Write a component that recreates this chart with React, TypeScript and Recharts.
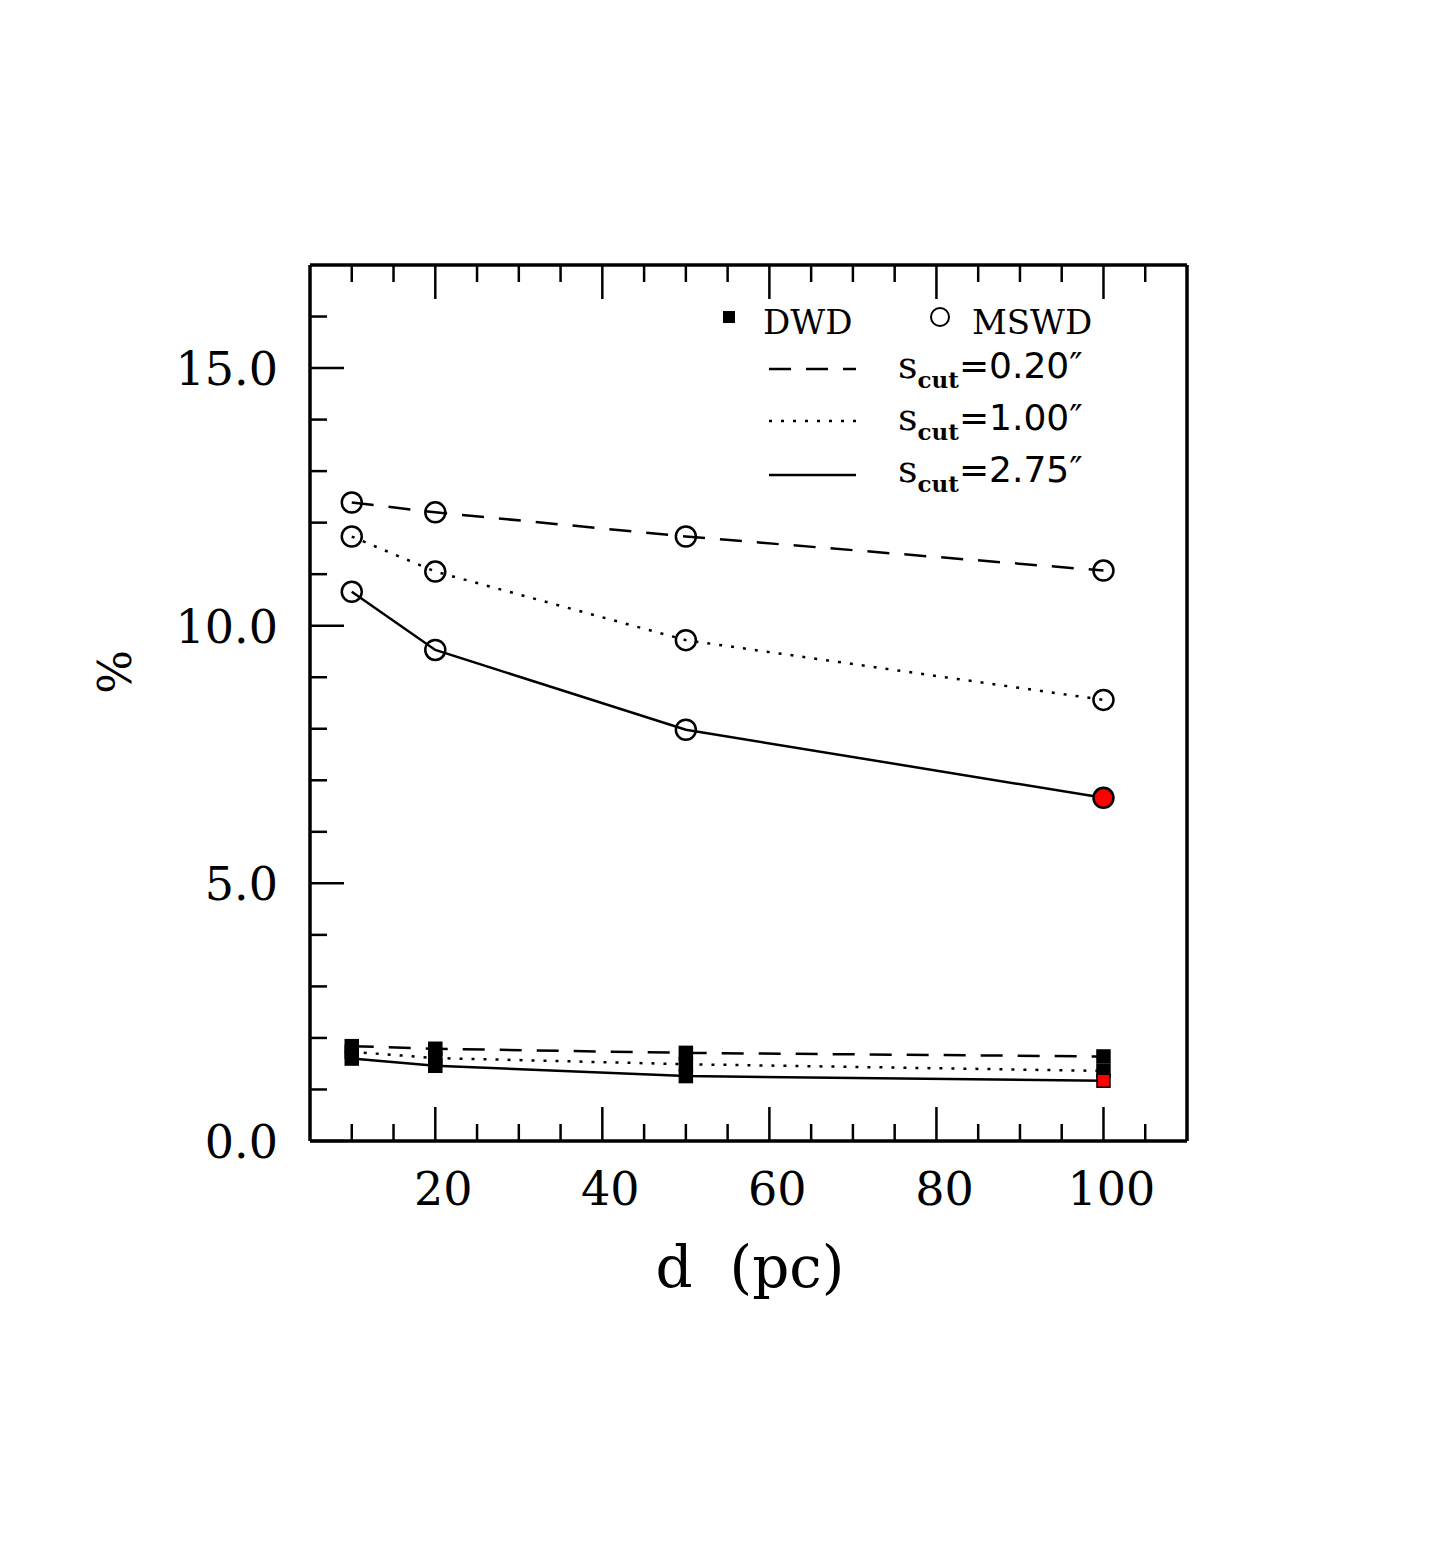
import { LineChart, Line, XAxis, YAxis } from "recharts"

// distance (pc) and percentage values
const distances = [10, 20, 50, 100]
const dwd020 = [1.84, 1.79, 1.71, 1.64]
const dwd100 = [1.73, 1.61, 1.49, 1.36]
const dwd275 = [1.6, 1.46, 1.26, 1.17]
const mswd020 = [12.39, 12.2, 11.73, 11.07]
const mswd100 = [11.73, 11.05, 9.72, 8.56]
const mswd275 = [10.66, 9.53, 7.98, 6.66]

const xTicks = [10, 15, 20, 25, 30, 35, 40, 45, 50, 55, 60, 65, 70, 75, 80, 85, 90, 95, 100, 105]
const xLabels = [20, 40, 60, 80, 100]
const yTicks = [0, 1, 2, 3, 4, 5, 6, 7, 8, 9, 10, 11, 12, 13, 14, 15, 16]
const yLabels = [0, 5, 10, 15]
const cutLabels = ["0.20", "1.00", "2.75"]
const highlightD = 100

const rows = distances.map((d, i) => ({
  d,
  dwd020: dwd020[i],
  dwd100: dwd100[i],
  dwd275: dwd275[i],
  mswd020: mswd020[i],
  mswd100: mswd100[i],
  mswd275: mswd275[i],
}))

const W = 1419
const H = 1400
const SERIF = "DejaVu Serif"
const INK = "#000"
const FRAME = { stroke: INK, strokeWidth: 3.5 }

const dashes = ["22 15", "3 9", undefined]

const BottomTick = (props: any) => {
  const { x, y, payload } = props
  const major = xLabels.includes(payload.value)
  return (
    <g>
      <line x1={x} x2={x} y1={y} y2={y - (major ? 34 : 17)} stroke={INK} strokeWidth={2.5} />
      {major && (
        <text x={x + 8} y={y + 64} textAnchor="middle" fontFamily={SERIF} fontSize={46} fill={INK}>
          {payload.value}
        </text>
      )}
    </g>
  )
}

const TopTick = (props: any) => {
  const { x, y, payload } = props
  const major = xLabels.includes(payload.value)
  return <line x1={x} x2={x} y1={y} y2={y + (major ? 34 : 17)} stroke={INK} strokeWidth={2.5} />
}

const LeftTick = (props: any) => {
  const { x, y, payload } = props
  const major = yLabels.includes(payload.value)
  return (
    <g>
      <line x1={x} x2={x + (major ? 34 : 17)} y1={y} y2={y} stroke={INK} strokeWidth={2.5} />
      {major && (
        <text x={x - 32} y={y + 17} textAnchor="end" fontFamily={SERIF} fontSize={46} fill={INK}>
          {payload.value.toFixed(1)}
        </text>
      )}
    </g>
  )
}

const circleDot = (key: string, red: boolean) => (p: any) => {
  const hot = red && p.payload.d === highlightD
  return (
    <circle
      key={`${key}-${p.index}`}
      cx={p.cx}
      cy={p.cy}
      r={10}
      fill={hot ? "#f00" : "none"}
      stroke={INK}
      strokeWidth={2.5}
    />
  )
}

const squareDot = (key: string, red: boolean) => (p: any) => {
  const hot = red && p.payload.d === highlightD
  return (
    <rect
      key={`${key}-${p.index}`}
      x={p.cx - 6.5}
      y={p.cy - 6.5}
      width={13}
      height={13}
      fill={hot ? "#f00" : INK}
      stroke={INK}
      strokeWidth={1.5}
    />
  )
}

const seriesKeys = [
  ["dwd020", "mswd020"],
  ["dwd100", "mswd100"],
  ["dwd275", "mswd275"],
]

export default function App() {
  return (
    <div style={{ position: "relative", width: W, height: H }}>
      <LineChart width={W} height={H} data={rows} margin={{ top: 256, right: 239, bottom: 0, left: 0 }}>
        <XAxis
          dataKey="d"
          type="number"
          domain={[5, 110]}
          ticks={xTicks}
          interval={0}
          height={267}
          tickSize={0}
          tickMargin={0}
          tickLine={false}
          tick={<BottomTick />}
          axisLine={FRAME}
        />
        <XAxis
          xAxisId="top"
          orientation="top"
          dataKey="d"
          type="number"
          domain={[5, 110]}
          ticks={xTicks}
          interval={0}
          height={1}
          tickSize={0}
          tickMargin={0}
          tickLine={false}
          tick={<TopTick />}
          axisLine={FRAME}
        />
        <YAxis
          type="number"
          domain={[0, 17]}
          ticks={yTicks}
          interval={0}
          width={302}
          tickSize={0}
          tickMargin={0}
          tickLine={false}
          tick={<LeftTick />}
          axisLine={FRAME}
        />
        <YAxis
          yAxisId="right"
          orientation="right"
          type="number"
          domain={[0, 17]}
          width={1}
          tick={false}
          tickLine={false}
          axisLine={FRAME}
        />
        {seriesKeys.map(([dk, mk], i) => [
          <Line
            key={dk}
            dataKey={dk}
            stroke={INK}
            strokeWidth={2.5}
            strokeDasharray={dashes[i]}
            dot={squareDot(dk, i === 2)}
            activeDot={false}
            isAnimationActive={false}
          />,
          <Line
            key={mk}
            dataKey={mk}
            xAxisId="top"
            yAxisId="right"
            stroke={INK}
            strokeWidth={2.5}
            strokeDasharray={dashes[i]}
            dot={circleDot(mk, i === 2)}
            activeDot={false}
            isAnimationActive={false}
          />,
        ])}
      </LineChart>
      <svg width={W} height={H} style={{ position: "absolute", left: 0, top: 0, pointerEvents: "none" }}>
        <g transform="translate(-8,-8)">
          <rect x={723} y={311} width={12} height={12} fill={INK} />
          <text x={763} y={334} fontFamily={SERIF} fontSize={34} fill={INK}>DWD</text>
          <circle cx={940} cy={317} r={9} fill="none" stroke={INK} strokeWidth={2} />
          <text x={972} y={334} fontFamily={SERIF} fontSize={34} fill={INK}>MSWD</text>
          {cutLabels.map((c, i) => {
            const base = [378, 430, 482][i]
            const ly = [369, 421, 475][i]
            return (
              <g key={c}>
                <line x1={769} x2={856} y1={ly} y2={ly} stroke={INK} strokeWidth={2.5} strokeDasharray={dashes[i]} />
                <text x={898} y={base} fill={INK}>
                  <tspan fontFamily={SERIF} fontSize={38}>s</tspan>
                  <tspan fontFamily={SERIF} fontSize={23} fontWeight="bold" dy={10}>cut</tspan>
                  <tspan fontFamily="DejaVu Sans" fontSize={36} dy={-10}>{`=${c}″`}</tspan>
                </text>
              </g>
            )
          })}
          <text x={750} y={1287} textAnchor="middle" fontFamily={SERIF} fontSize={58} fill={INK}>
            {"d\u00a0\u00a0(pc)"}
          </text>
          <text
            transform="translate(131,672) rotate(-90)"
            textAnchor="middle"
            fontFamily={SERIF}
            fontSize={46}
            fill={INK}
          >
            %
          </text>
        </g>
      </svg>
    </div>
  )
}
